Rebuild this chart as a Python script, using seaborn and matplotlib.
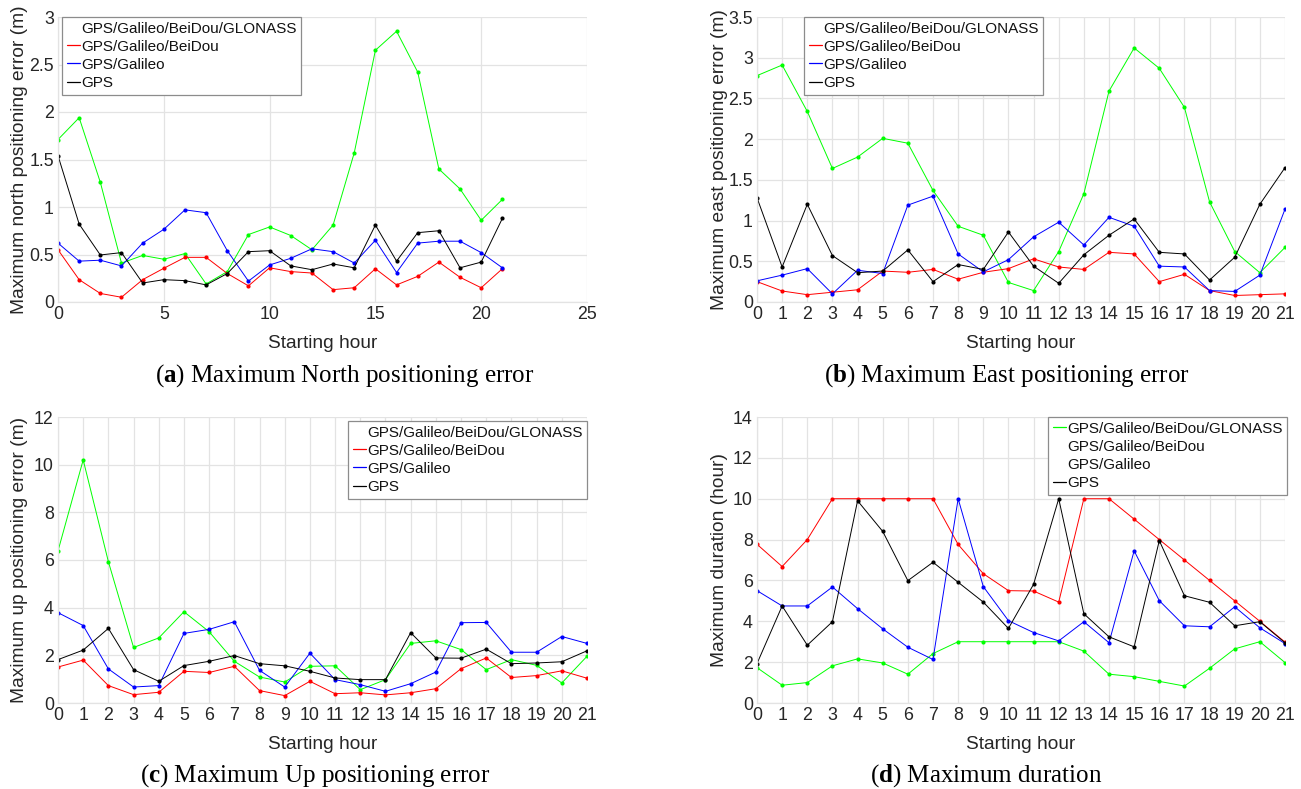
import numpy as np
import pandas as pd
import matplotlib
matplotlib.use("Agg")
import matplotlib.pyplot as plt
import seaborn as sns
from matplotlib.lines import Line2D
from matplotlib.ticker import FuncFormatter

# ---------------- data ----------------
hours = list(range(22))
series_names = ["GPS/Galileo/BeiDou/GLONASS", "GPS/Galileo/BeiDou", "GPS/Galileo", "GPS"]

n_glo = [1.71, 1.94, 1.26, 0.41, 0.49, 0.45, 0.51, 0.19, 0.32, 0.71, 0.79, 0.70, 0.55, 0.81, 1.57, 2.65, 2.85, 2.42, 1.40, 1.19, 0.86, 1.08]
n_bds = [0.55, 0.235, 0.09, 0.05, 0.235, 0.355, 0.47, 0.47, 0.30, 0.17, 0.36, 0.32, 0.305, 0.13, 0.15, 0.35, 0.18, 0.27, 0.42, 0.26, 0.15, 0.35]
n_gal = [0.62, 0.43, 0.44, 0.38, 0.62, 0.765, 0.97, 0.94, 0.54, 0.22, 0.39, 0.46, 0.56, 0.53, 0.41, 0.65, 0.31, 0.62, 0.64, 0.64, 0.52, 0.36]
n_gps = [1.54, 0.82, 0.495, 0.52, 0.20, 0.235, 0.225, 0.18, 0.30, 0.53, 0.54, 0.38, 0.34, 0.40, 0.36, 0.81, 0.43, 0.73, 0.75, 0.36, 0.42, 0.88]

e_glo = [2.78, 2.91, 2.34, 1.64, 1.78, 2.01, 1.95, 1.37, 0.93, 0.82, 0.24, 0.14, 0.62, 1.33, 2.59, 3.12, 2.87, 2.39, 1.23, 0.62, 0.36, 0.67]
e_bds = [0.25, 0.135, 0.09, 0.12, 0.15, 0.38, 0.365, 0.40, 0.28, 0.365, 0.41, 0.53, 0.43, 0.40, 0.61, 0.59, 0.25, 0.34, 0.14, 0.08, 0.09, 0.10]
e_gal = [0.26, 0.33, 0.41, 0.10, 0.39, 0.35, 1.19, 1.30, 0.59, 0.37, 0.52, 0.80, 0.98, 0.70, 1.04, 0.93, 0.44, 0.43, 0.14, 0.13, 0.33, 1.14]
e_gps = [1.28, 0.43, 1.20, 0.57, 0.36, 0.38, 0.64, 0.25, 0.46, 0.40, 0.86, 0.44, 0.23, 0.58, 0.82, 1.02, 0.61, 0.59, 0.27, 0.55, 1.20, 1.65]

u_glo = [6.38, 10.2, 5.93, 2.33, 2.73, 3.83, 2.99, 1.75, 1.09, 0.88, 1.54, 1.56, 0.56, 0.98, 2.50, 2.61, 2.24, 1.40, 1.82, 1.58, 0.84, 1.96]
u_bds = [1.51, 1.80, 0.73, 0.35, 0.45, 1.33, 1.28, 1.54, 0.52, 0.31, 0.91, 0.39, 0.43, 0.34, 0.43, 0.60, 1.44, 1.89, 1.07, 1.15, 1.35, 1.04]
u_gal = [3.79, 3.25, 1.43, 0.67, 0.73, 2.92, 3.09, 3.41, 1.37, 0.67, 2.09, 0.98, 0.77, 0.49, 0.81, 1.30, 3.37, 3.38, 2.13, 2.13, 2.79, 2.50]
u_gps = [1.82, 2.22, 3.13, 1.40, 0.91, 1.57, 1.75, 1.99, 1.65, 1.56, 1.33, 1.05, 0.98, 0.98, 2.95, 1.89, 1.88, 2.26, 1.65, 1.68, 1.73, 2.19]

d_glo = [1.73, 0.87, 1.0, 1.82, 2.16, 1.96, 1.41, 2.42, 3, 3, 3, 3, 3, 2.54, 1.41, 1.29, 1.06, 0.83, 1.70, 2.65, 3, 1.98]
d_bds = [7.77, 6.68, 8, 10, 10, 10, 10, 10, 7.76, 6.33, 5.5, 5.48, 4.94, 10, 10, 9, 8, 7, 6, 5, 4, 2.98]
d_gal = [5.5, 4.75, 4.75, 5.68, 4.62, 3.63, 2.73, 2.13, 10, 5.7, 4.03, 3.45, 3.04, 3.98, 2.95, 7.45, 5.01, 3.78, 3.73, 4.71, 3.68, 2.91]
d_gps = [1.93, 4.75, 2.83, 3.98, 9.9, 8.4, 5.99, 6.89, 5.91, 4.94, 3.65, 5.81, 10, 4.37, 3.24, 2.75, 7.95, 5.25, 4.93, 3.78, 3.98, 2.95]

ylabels = ["Maximum north positioning error (m)", "Maximum east positioning error (m)",
           "Maximum up positioning error (m)", "Maximum duration (hour)"]
captions = [("a", "Maximum North positioning error"), ("b", "Maximum East positioning error"),
            ("c", "Maximum Up positioning error"), ("d", "Maximum duration")]
ymax = [3, 3.5, 12, 14]
ystep = [0.5, 0.5, 2, 2]
xmax = [25, 21, 21, 21]
xstep = [5, 1, 1, 1]
xlabel = "Starting hour"

# ---------------- style ----------------
sns.set_theme(style="white")
plt.rcParams["font.family"] = ["Liberation Sans", "DejaVu Sans"]
plt.rcParams["mathtext.fontset"] = "custom"
plt.rcParams["mathtext.bf"] = "Liberation Serif:bold"
plt.rcParams["mathtext.rm"] = "Liberation Serif"

colors = ["#00ff00", "#ff0000", "#0000ff", "#000000"]
txt = "#262626"

W, H = 1301, 789
fig = plt.figure(figsize=(W / 100, H / 100), dpi=100)

# axes boxes in pixels: left, top, right, bottom
boxes = [(58, 17, 587, 302), (757, 17, 1285, 302), (58, 417, 587, 703), (757, 417, 1285, 703)]
panels = [(n_glo, n_bds, n_gal, n_gps), (e_glo, e_bds, e_gal, e_gps),
          (u_glo, u_bds, u_gal, u_gps), (d_glo, d_bds, d_gal, d_gps)]
# legend handle visibility per panel (as in the reference)
leg_vis = [(0, 1, 1, 1), (0, 1, 1, 1), (0, 1, 1, 1), (1, 0, 0, 1)]
leg_px = [(62, 17), (804, 17), (348, 421), (1048, 417)]  # upper-left corner in px
cap_pos = [(345, 376), (1007, 376), (315, 776), (986, 776)]

for i in range(4):
    l, t, r, b = boxes[i]
    ax = fig.add_axes([l / W, 1 - b / H, (r - l) / W, (b - t) / H])
    df = pd.DataFrame({"hour": hours * 4,
                       "val": sum([list(s) for s in panels[i]], []),
                       "sys": sum([[n] * len(hours) for n in series_names], [])})
    for k, name in enumerate(series_names):
        sub = df[df["sys"] == name]
        sns.lineplot(data=sub, x="hour", y="val", color=colors[k], linewidth=0.7,
                     marker="o", markersize=3, markeredgewidth=0, ax=ax, legend=False)
    ax.set_xlim(0, xmax[i])
    ax.set_ylim(0, ymax[i])
    ax.set_xticks(np.arange(0, xmax[i] + 0.001, xstep[i]))
    ax.set_yticks(np.arange(0, ymax[i] + 0.001, ystep[i]))
    ax.yaxis.set_major_formatter(FuncFormatter(lambda v, p: f"{v:g}"))
    ax.grid(True, color="#e3e3e3", linewidth=0.9)
    ax.set_axisbelow(True)
    for s in ["top", "right"]:
        ax.spines[s].set_visible(False)
    for s in ["left", "bottom"]:
        ax.spines[s].set_color("#e3e3e3")
        ax.spines[s].set_linewidth(0.9)
    ax.tick_params(axis="both", direction="in", length=4, width=0.8, color="#999999",
                   labelsize=12.8, labelcolor=txt, pad=3)
    ax.set_xlabel(xlabel, fontsize=13.8, color=txt)
    ax.set_ylabel(ylabels[i], fontsize=13.8, color=txt)
    ax.xaxis.set_label_coords(0.5, -(343 - 302) / 285)
    ax.xaxis.label.set_verticalalignment("center")
    ax.yaxis.set_label_coords((19 - 58) / 529 if i % 2 == 0 else (719 - 757) / 528, 0.5)
    ax.yaxis.label.set_verticalalignment("center")

    handles = [Line2D([0], [0], color=colors[k], linewidth=0.9, alpha=float(leg_vis[i][k]))
               for k in range(4)]
    lx, ly = leg_px[i]
    leg = ax.legend(handles, series_names, loc="upper left",
                    bbox_to_anchor=((lx - l) / (r - l), 1 - (ly - t) / (b - t)),
                    borderaxespad=0, fontsize=11, frameon=True, fancybox=False,
                    edgecolor="#8c8c8c", framealpha=1, handlelength=0.85,
                    handletextpad=0.12, labelspacing=0.27, borderpad=0.3)
    leg.get_frame().set_linewidth(0.9)
    for tx in leg.get_texts():
        tx.set_color("#111111")

    letter, cap = captions[i]
    fig.text(cap_pos[i][0] / W, 1 - cap_pos[i][1] / H,
             "($\\mathbf{" + letter + "}$) " + cap, fontsize=18,
             family="Liberation Serif", color="black", ha="center", va="center")

fig.savefig("out.png", dpi=100)
